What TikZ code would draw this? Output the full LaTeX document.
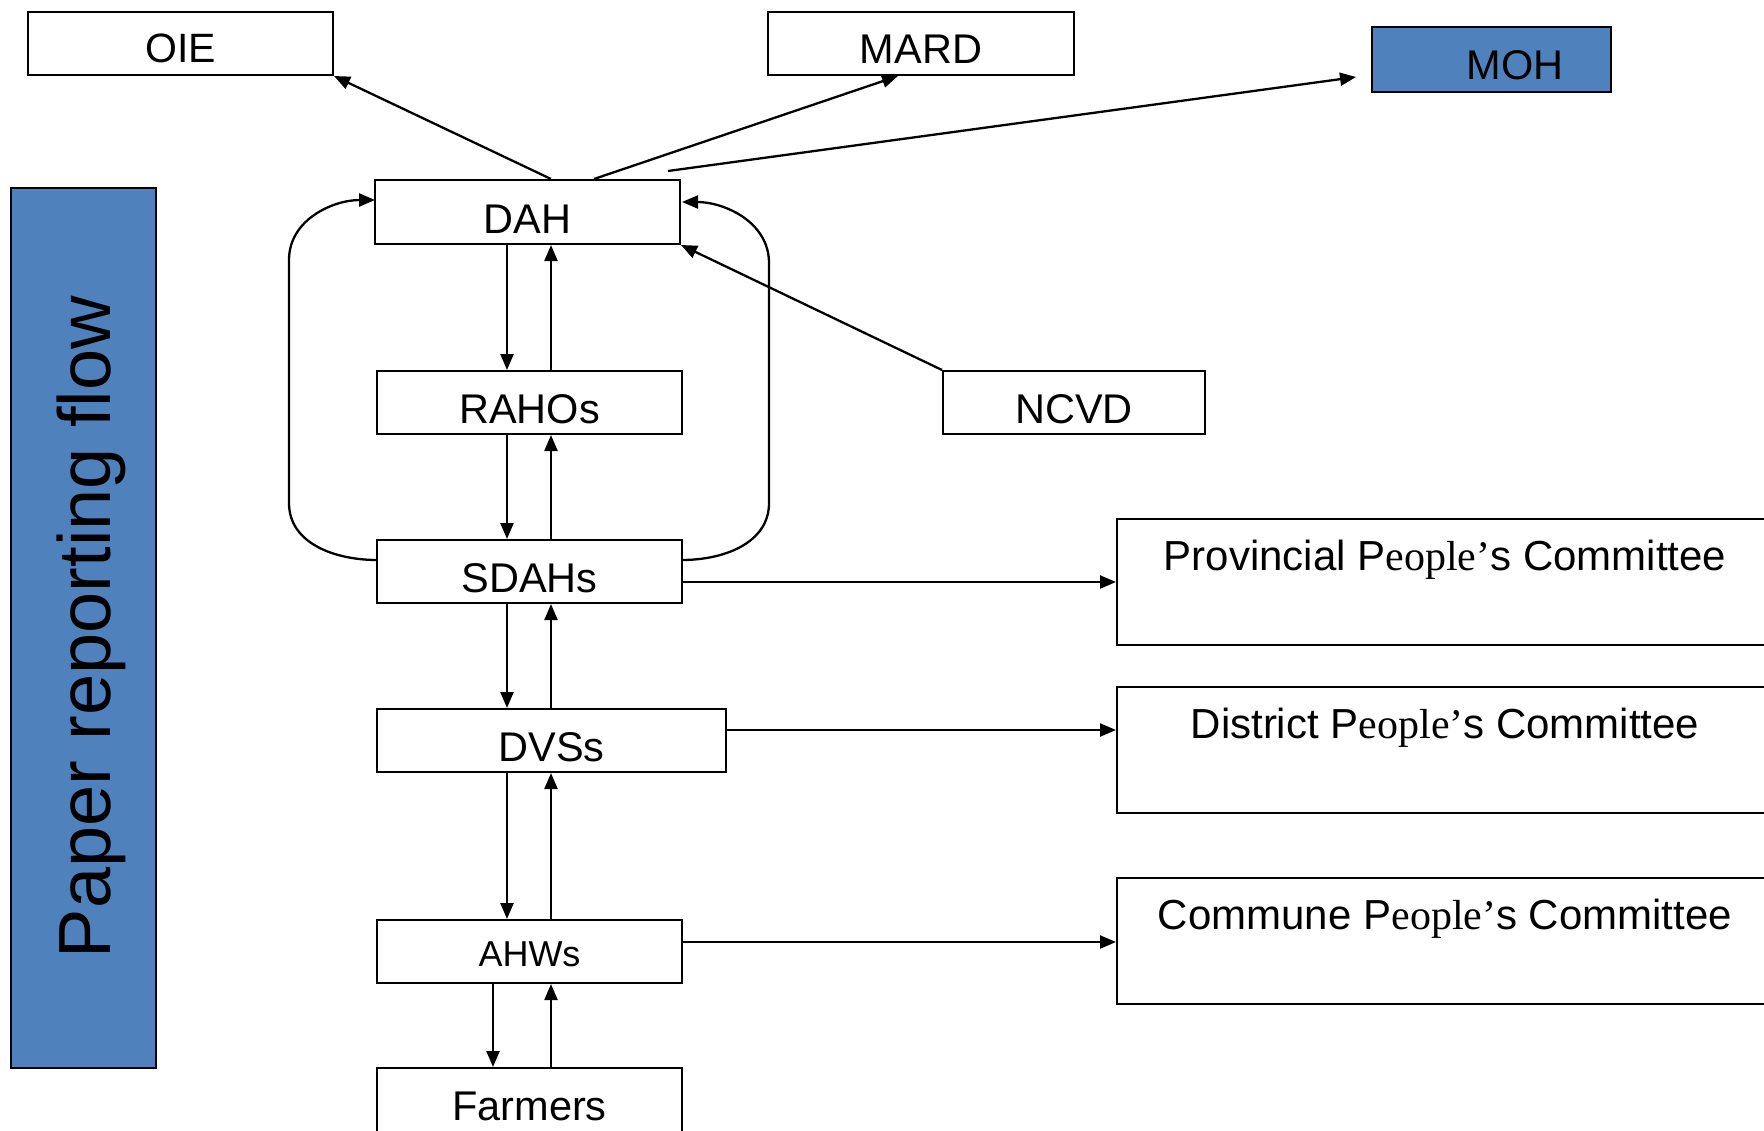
\documentclass[tikz,border=0pt]{standalone}
\usepackage{fontspec}
\setmainfont{Liberation Sans}
\newfontfamily\tmsfont{Liberation Serif}
\usetikzlibrary{arrows.meta}
\definecolor{boxblue}{RGB}{79,129,189}
\begin{document}
\begin{tikzpicture}[x=1pt,y=-1pt,
  box/.style={draw=black, line width=2pt, fill=white, inner sep=0pt},
  lbl/.style={anchor=base, inner sep=0pt, font=\fontsize{41.5}{48}\selectfont},
  cmt/.style={anchor=base, inner sep=0pt, font=\fontsize{42}{48}\selectfont},
  arr/.style={line width=2.3pt, -{Triangle[length=16pt,width=13pt]}},
  curve/.style={line width=2.3pt, -{Triangle[length=16pt,width=13pt]}}]
\useasboundingbox (0,0) rectangle (1764,1130);
\fill[white] (0,0) rectangle (1764,1130);
\clip (0,0) rectangle (1764,1130);

% side banner
\node[box, fill=boxblue, minimum width=145pt, minimum height=880pt] (side) at (83.5,628) {};
\node[rotate=90, inner sep=0pt, font=\fontsize{74}{80}\selectfont] (sidet) at (91.5,627) {Paper reporting flow};

% top row
\node[box, minimum width=305pt, minimum height=63pt] (oie) at (180.5,43.5) {};
\node[lbl, font=\fontsize{41}{48}\selectfont] (oiet) at ([yshift=-18.5pt]oie.center) {OIE};
\node[box, minimum width=306pt, minimum height=63pt] (mard) at (921,43.5) {};
\node[lbl] (mardt) at ([yshift=-19.5pt]mard.center) {MARD};
\node[box, fill=boxblue, minimum width=239pt, minimum height=65pt] (moh) at (1491.5,59.5) {};
\node[lbl] (moht) at (1515,79) {MOH};

% main column
\node[box, minimum width=305pt, minimum height=64pt] (dah) at (527.5,212) {};
\node[lbl] (daht) at ([yshift=-21pt]dah.center) {DAH};
\node[box, minimum width=305pt, minimum height=63pt] (rahos) at (529.5,402.5) {};
\node[lbl] (rahost) at ([yshift=-20.5pt]rahos.center) {RAHOs};
\node[box, minimum width=262pt, minimum height=63pt] (ncvd) at (1074,402.5) {};
\node[lbl] (ncvdt) at ([yshift=-20.5pt]ncvd.center) {NCVD};
\node[box, minimum width=305pt, minimum height=63pt] (sdahs) at (529.5,571.5) {};
\node[lbl] (sdahst) at ([yshift=-20.5pt]sdahs.center) {SDAHs};
\node[box, minimum width=349pt, minimum height=63pt] (dvss) at (551.5,740.5) {};
\node[lbl] (dvsst) at ([yshift=-20.5pt]dvss.center) {DVSs};
\node[box, minimum width=305pt, minimum height=63pt] (ahws) at (529.5,951.5) {};
\node[lbl, font=\fontsize{36}{44}\selectfont] (ahwst) at ([yshift=-15pt]ahws.center) {AHWs};
\node[box, minimum width=305pt, minimum height=92pt] (farm) at (529.5,1114) {};
\node[lbl] (farmt) at (529.5,1120) {Farmers};

% committees
\node[box, minimum width=658pt, minimum height=126pt] (prov) at (1446,582) {};
\node[cmt] (provt) at (1445,570) {Provincial P{\tmsfont eople’}s Committee};
\node[box, minimum width=658pt, minimum height=126pt] (dist) at (1446,750) {};
\node[cmt] (distt) at (1445,738) {District P{\tmsfont eople’}s Committee};
\node[box, minimum width=658pt, minimum height=126pt] (comm) at (1446,941) {};
\node[cmt] (commt) at (1445,929) {Commune P{\tmsfont eople’}s Committee};

% helper coordinates
\coordinate (xd) at (507,0);
\coordinate (xu) at (551,0);
\coordinate (xf) at (493,0);
\coordinate (xm) at (594,0);
\coordinate (xmt) at (898,0);
\coordinate (mohs) at (668,171);
\coordinate (mohe) at (1356,77);
\coordinate (yp) at (0,582);
\coordinate (yd) at (0,730);
\coordinate (yc) at (0,942);
\coordinate (lcs) at (377,560);
\coordinate (lc1) at (289,503);
\coordinate (lc2) at (289,260);
\coordinate (lce) at (375,200);
\coordinate (rcs) at (682,560);
\coordinate (rc1) at (769,503);
\coordinate (rc2) at (769,263);
\coordinate (rce) at (682,202);

% top connectors
\draw[arr] (dah.north -| xu) -- (oie.south east);
\draw[arr] (dah.north -| xm) -- (mard.south -| xmt);
\draw[arr] (mohs) -- (mohe);
\draw[arr] (ncvd.north west) -- (dah.south east);

% vertical pairs
\draw[arr] (dah.south -| xd) -- (rahos.north -| xd);
\draw[arr] (rahos.north -| xu) -- (dah.south -| xu);
\draw[arr] (rahos.south -| xd) -- (sdahs.north -| xd);
\draw[arr] (sdahs.north -| xu) -- (rahos.south -| xu);
\draw[arr] (sdahs.south -| xd) -- (dvss.north -| xd);
\draw[arr] (dvss.north -| xu) -- (sdahs.south -| xu);
\draw[arr] (dvss.south -| xd) -- (ahws.north -| xd);
\draw[arr] (ahws.north -| xu) -- (dvss.south -| xu);
\draw[arr] (ahws.south -| xf) -- (farm.north -| xf);
\draw[arr] (farm.north -| xu) -- (ahws.south -| xu);

% loops SDAHs -> DAH
\draw[curve] (lcs) to[out=180,in=-90] (lc1) -- (lc2) to[out=90,in=180] (lce);
\draw[curve] (rcs) to[out=0,in=-90] (rc1) -- (rc2) to[out=90,in=0] (rce);

% horizontal to committees
\draw[arr] (sdahs.east |- yp) -- (prov.west |- yp);
\draw[arr] (dvss.east |- yd) -- (dist.west |- yd);
\draw[arr] (ahws.east |- yc) -- (comm.west |- yc);
\end{tikzpicture}
\end{document}
